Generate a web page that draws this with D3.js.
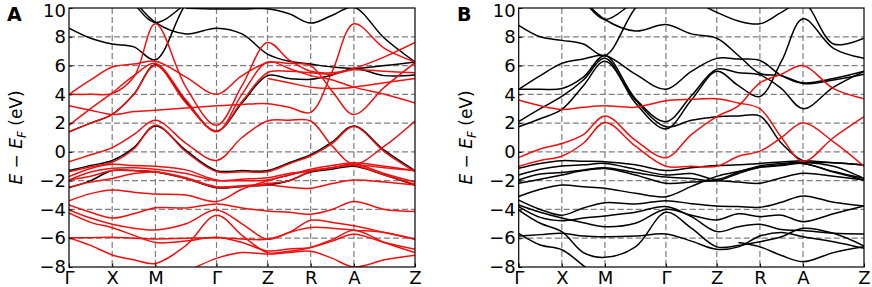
<!DOCTYPE html>
<html>
<head>
<meta charset="utf-8">
<script src="https://cdn.jsdelivr.net/npm/d3@7"></script>
<style>
  body { margin: 0; background: #fff; }
  text { font-family: "DejaVu Sans", sans-serif; }
</style>
</head>
<body>
<div id="chart"></div>
<script>
// k-path: high-symmetry points and the sample positions the bands are read at
const kTicks = [0, 0.5, 1.0, 1.707, 2.297, 2.797, 3.297, 4.004];
const kLabels = ["Γ", "X", "M", "Γ", "Z", "R", "A", "Z"];
const kSamples = [0, 0.25, 0.5, 0.75, 1.0, 1.3535, 1.707, 2.002, 2.297, 2.547, 2.797, 3.047, 3.297, 3.6505, 4.004];
const energyTicks = [-8, -6, -4, -2, 0, 2, 4, 6, 8, 10];

const _ = null;

// panel A, black bands (energies at kSamples)
const blackA = [
  [8.6, 7.9, 7.5, 7.3, 6.4, 10.3, 12.5, _, _, _, _, _, _, _, _],
  [_, _, 12, 10.3, 9.0, 10.3, 12, _, _, _, _, _, _, _, _],
  [_, _, _, 10.6, 9.0, 8.2, 8.6, 8.2, 6.8, 6.3, 6.1, 5.9, 5.8, 6.0, 6.25],
  [_, _, _, _, _, 9.98, 9.93, 9.93, 9.95, 9.6, 8.95, 9.5, 10.05, 7.9, 6.25],
  [1.4, 2.0, 2.6, 4.0, 6.05, 3.5, 1.45, 3.4, 5.3, 5.1, 5.05, 5.35, 5.8, 5.3, 5.35],
  [-1.3, -0.95, -0.6, 0.3, 1.8, 0.1, -1.3, -1.3, -1.3, -0.75, -0.2, 0.7, 1.8, 0.1, -1.3],
  [-2.5, -2.0, -1.3, -1.3, -1.4, -1.85, -2.5, -2.4, -2.3, -2.0, -1.4, -1.2, -1.0, -1.6, -2.3]
];

// panel A, red bands
const redA = [
  [4.0, 4.0, 4.05, 5.2, 8.9, 4.5, 1.85, 4.6, 7.6, 6.4, 5.6, 5.5, 5.8, 6.6, 7.6],
  [4.0, 5.0, 5.9, 6.1, 6.3, 5.2, 4.0, 5.3, 6.2, 6.15, 6.0, 4.2, 2.6, 4.5, 6.2],
  [1.85, 3.0, 4.1, 5.3, 6.15, 3.6, 1.4, 4.0, 6.25, 5.8, 5.3, 5.0, 4.5, 4.0, 3.4],
  [1.4, 2.0, 2.6, 4.0, 6.0, 3.4, 1.45, 3.5, 5.5, 5.6, 5.5, 5.4, 5.7, 5.6, 5.5],
  [3.2, 2.9, 2.6, 2.8, 2.9, 3.05, 3.2, 3.3, 3.35, 3.1, 2.75, 5.6, 8.9, 7.2, 6.25],
  [_, _, _, _, _, _, _, _, 5.1, 4.8, 4.5, 4.4, 4.5, 4.8, 5.1],
  [-0.68, -0.2, 0.3, 1.2, 2.2, 0.6, -0.6, 1.0, 2.15, 2.2, 2.15, 0.4, -0.85, 0.4, 2.15],
  [-1.38, -1.03, -0.72, 0.2, 1.86, 0.0, -1.38, -1.38, -1.38, -0.82, -0.27, 0.6, 1.76, 0.0, -1.38],
  [-1.72, -1.15, -0.86, -0.95, -1.0, -1.25, -1.95, -2.0, -1.95, -1.6, -1.2, -0.95, -0.75, -1.0, -1.3],
  [-1.95, -1.4, -1.14, -1.1, -1.2, -1.5, -2.0, -1.9, -1.8, -1.5, -1.33, -1.1, -0.85, -1.5, -2.1],
  [-1.95, -1.7, -1.3, -1.3, -1.37, -1.8, -2.42, -2.35, -2.2, -2.0, -1.35, -1.1, -0.95, -1.6, -2.25],
  [-2.46, -2.1, -1.85, -1.5, -1.4, -1.85, -2.46, -2.4, -2.3, -2.45, -2.53, -2.2, -1.95, -2.1, -2.3],
  [-3.4, -2.9, -2.65, -2.8, -2.93, -3.0, -3.45, -2.6, -2.0, -1.6, -1.3, -1.1, -0.9, -1.1, -1.3],
  [-3.69, -4.2, -4.6, -4.3, -3.88, -3.9, -3.62, -3.9, -4.1, -4.2, -4.33, -4.0, -3.45, -4.0, -4.14],
  [-4.03, -4.6, -5.03, -5.3, -5.43, -5.0, -4.03, -5.0, -6.07, -5.6, -5.25, -5.3, -5.44, -5.6, -6.07],
  [-4.25, -4.9, -5.27, -5.8, -6.3, -6.2, -5.94, -6.3, -6.88, -6.75, -6.64, -6.2, -5.72, -6.3, -6.76],
  [-5.96, -5.96, -5.94, -6.0, -6.05, -6.0, -5.96, -6.05, -6.07, -5.6, -4.75, -4.9, -5.14, -5.6, -6.07],
  [-5.96, -6.5, -7.16, -7.5, -7.75, -6.5, -4.4, -5.8, -7.0, -6.9, -6.64, -6.1, -5.44, -6.3, -7.0],
  [_, _, _, _, -9.0, -8.3, -7.4, -7.0, -7.1, -7.0, -6.9, -7.4, -8.0, -7.5, -7.18]
];

// panel B, black bands
const blackB = [
  [8.8, 8.0, 7.75, 7.5, 6.7, 10.0, 12, _, _, _, _, _, _, _, _],
  [_, _, _, 10.6, 9.2, 10.6, _, _, _, _, _, _, _, _, _],
  [_, _, _, 10.6, 9.2, 8.4, 8.85, 8.2, 7.9, 6.7, 5.45, 5.3, 4.8, 5.1, 5.6],
  [_, _, _, _, _, _, _, 10.6, 9.7, 9.1, 8.9, 9.7, 10.4, 7.5, 7.9],
  [4.35, 5.3, 6.15, 6.45, 6.7, 5.4, 4.35, 5.6, 6.5, 6.45, 6.35, 5.3, 4.75, 5.0, 5.4],
  [4.35, 4.35, 4.4, 5.2, 6.7, 3.7, 2.1, 3.9, 5.75, 5.5, 5.35, 4.4, 3.0, 4.5, 5.6],
  [2.1, 3.0, 3.85, 5.0, 6.5, 3.4, 1.6, 3.6, 5.6, 4.6, 3.85, 6.3, 9.25, 7.2, 6.5],
  [1.75, 2.3, 2.95, 4.6, 6.3, 3.6, 1.75, 2.2, 2.45, 2.5, 2.5, 0.6, -0.61, -0.75, -0.91],
  [-1.14, -0.8, -0.61, -0.65, -0.68, -0.9, -1.3, -1.1, -0.95, -0.9, -0.8, -0.7, -0.61, -0.75, -0.91],
  [-1.6, -1.2, -0.98, -0.9, -0.8, -1.2, -1.6, -1.5, -1.91, -1.4, -0.98, -0.8, -0.73, -1.0, -1.84],
  [-1.95, -1.54, -1.44, -1.26, -1.1, -1.44, -1.75, -1.85, -2.0, -1.5, -1.07, -0.9, -0.8, -1.4, -1.95],
  [-3.1, -2.6, -2.3, -2.42, -2.53, -2.88, -3.11, -2.4, -1.7, -1.37, -1.07, -0.95, -0.8, -1.37, -1.84],
  [-2.18, -1.9, -1.6, -1.3, -1.15, -1.6, -2.18, -2.1, -2.0, -2.1, -2.18, -1.8, -1.49, -1.7, -1.95],
  [-3.35, -4.0, -4.4, -3.9, -3.53, -3.62, -3.39, -3.6, -3.76, -3.8, -3.85, -3.5, -3.06, -3.5, -3.76],
  [-3.69, -4.2, -4.6, -4.92, -5.2, -4.96, -3.99, -4.4, -4.73, -4.3, -4.5, -4.4, -4.85, -4.3, -3.76],
  [-3.8, -4.55, -4.78, -4.6, -4.45, -4.2, -3.8, -4.5, -5.54, -5.2, -5.03, -5.4, -5.47, -5.66, -5.7],
  [-5.84, -5.75, -5.65, -5.85, -5.9, -5.85, -5.7, -6.2, -6.77, -6.6, -5.85, -5.6, -5.9, -6.24, -6.7],
  [-4.04, -4.96, -5.54, -7.0, -7.33, -6.6, -4.2, -5.3, -6.6, -6.5, -6.24, -5.9, -5.31, -5.66, -6.54],
  [-5.66, -6.47, -6.8, -7.9, -9.0, _, _, _, _, _, _, _, _, _, _],
  [_, _, _, _, _, _, _, _, _, -6.3, -6.6, -7.2, -7.63, -7.0, -6.6]
];

// panel B, red bands
const redB = [
  [3.6, 3.2, 2.95, 3.1, 3.2, 3.1, 3.55, 3.65, 3.7, 3.4, 3.0, 1.0, -0.65, 1.0, 2.45],
  [-0.4, 0.2, 0.58, 1.2, 2.5, 0.8, -0.4, 1.2, 2.45, 3.2, 4.8, 5.4, 6.0, 4.4, 3.7],
  [-1.0, -0.6, -0.3, 0.6, 2.05, 0.4, -1.0, -1.0, -1.0, -0.3, 0.05, 1.0, 2.0, 0.7, -1.0]
];

const width = 872, height = 287;
const plotTop = 8, plotBottom = 267;

const svg = d3.select("#chart").append("svg")
  .attr("width", width)
  .attr("height", height);

function drawPanel(id, left, right, letter, letterX, blacks, reds) {
  const x = d3.scaleLinear().domain([0, kTicks[kTicks.length - 1]]).range([left, right]);
  const y = d3.scaleLinear().domain([-8, 10]).range([plotBottom, plotTop]);
  const g = svg.append("g");

  g.append("clipPath").attr("id", "clip" + id)
    .append("rect")
    .attr("x", left).attr("y", plotTop)
    .attr("width", right - left).attr("height", plotBottom - plotTop);

  // dashed grid
  const grid = g.append("g")
    .attr("stroke", "#7f7f7f")
    .attr("stroke-width", 1.2)
    .attr("stroke-dasharray", "6,3");
  grid.selectAll(".hg")
    .data(energyTicks.slice(1, -1))
    .join("line")
    .attr("x1", left).attr("x2", right)
    .attr("y1", d => y(d)).attr("y2", d => y(d));
  grid.selectAll(".vg")
    .data(kTicks.slice(1, -1))
    .join("line")
    .attr("x1", d => x(d)).attr("x2", d => x(d))
    .attr("y1", plotTop).attr("y2", plotBottom);

  // bands
  const line = d3.line()
    .defined(d => d[1] != null)
    .x(d => x(d[0]))
    .y(d => y(d[1]))
    .curve(d3.curveCatmullRom.alpha(0.5));

  const bands = g.append("g").attr("clip-path", `url(#clip${id})`)
    .attr("fill", "none")
    .attr("stroke-width", 1.5)
    .attr("stroke-linejoin", "round");
  bands.selectAll(".black")
    .data(blacks)
    .join("path")
    .attr("stroke", "#000")
    .attr("d", b => line(b.map((e, i) => [kSamples[i], e])));
  bands.selectAll(".red")
    .data(reds)
    .join("path")
    .attr("stroke", "#f01010")
    .attr("d", b => line(b.map((e, i) => [kSamples[i], e])));

  // axes
  const yAxis = g.append("g")
    .attr("transform", `translate(${left},0)`)
    .call(d3.axisLeft(y).tickValues(energyTicks).tickSize(-3.5).tickPadding(3));
  const xAxis = g.append("g")
    .attr("transform", `translate(0,${plotBottom})`)
    .call(d3.axisBottom(x).tickValues(kTicks).tickFormat((d, i) => kLabels[i]).tickSize(-3.5).tickPadding(4));
  [yAxis, xAxis].forEach(a => {
    a.select(".domain").remove();
    a.selectAll("text").attr("font-size", 18).attr("fill", "#000")
      .attr("font-family", "DejaVu Sans, sans-serif");
    a.selectAll("line").attr("stroke", "#000");
  });
  // keep the top label inside the page
  yAxis.selectAll(".tick text").filter(d => d === 10).attr("dy", "0.48em");

  // frame
  g.append("rect")
    .attr("x", left).attr("y", plotTop)
    .attr("width", right - left).attr("height", plotBottom - plotTop)
    .attr("fill", "none").attr("stroke", "#000").attr("stroke-width", 1.2);

  // y label
  const lab = g.append("text")
    .attr("transform", `translate(${left - 47},${(plotTop + plotBottom) / 2}) rotate(-90)`)
    .attr("text-anchor", "middle")
    .attr("font-size", 17);
  lab.append("tspan").attr("font-style", "italic").text("E");
  lab.append("tspan").text(" − ");
  lab.append("tspan").attr("font-style", "italic").text("E");
  lab.append("tspan").attr("font-style", "italic").attr("font-size", 12).attr("dy", 4).text("F");
  lab.append("tspan").attr("dy", -4).text(" (eV)");

  // panel letter
  g.append("text")
    .attr("x", letterX).attr("y", 21)
    .attr("font-size", 19).attr("font-weight", "bold")
    .text(letter);
}

drawPanel("A", 69, 415, "A", 7, blackA, redA);
drawPanel("B", 518.7, 864, "B", 457, blackB, redB);
</script>
</body>
</html>
